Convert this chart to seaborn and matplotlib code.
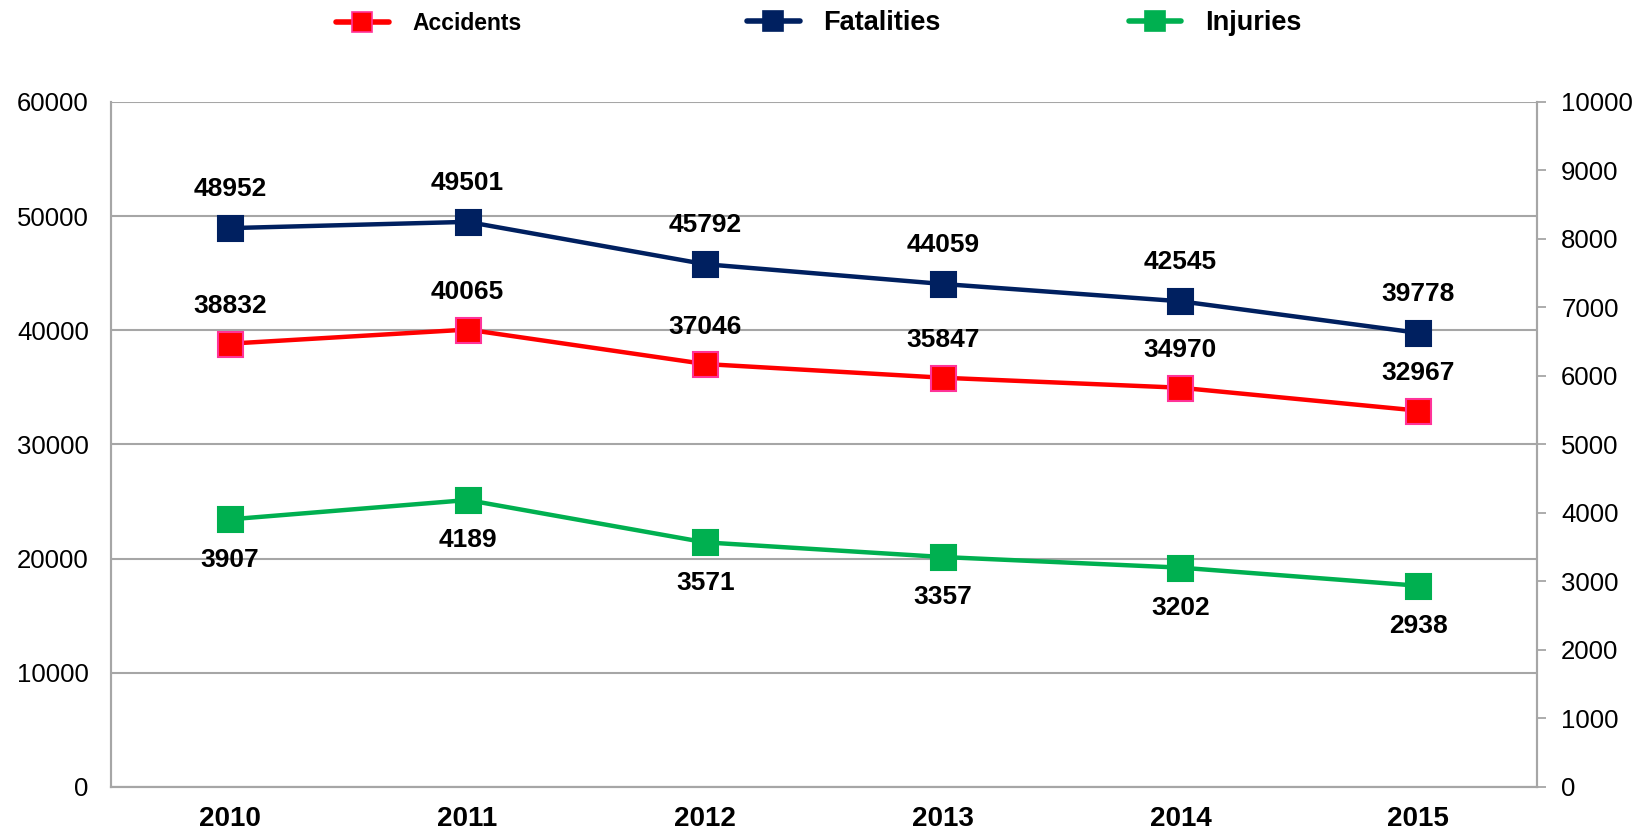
import matplotlib
matplotlib.use("Agg")
import matplotlib.pyplot as plt
from matplotlib.lines import Line2D
import seaborn as sns
import pandas as pd

# data
years = [2010, 2011, 2012, 2013, 2014, 2015]
accidents = [38832, 40065, 37046, 35847, 34970, 32967]
fatalities = [48952, 49501, 45792, 44059, 42545, 39778]
injuries = [3907, 4189, 3571, 3357, 3202, 2938]

RED = '#FF0000'
NAVY = '#002060'
GREEN = '#00B050'
GRID = '#A6A6A6'

sns.set_style('white')
plt.rcParams['font.family'] = ['Liberation Sans', 'DejaVu Sans']
plt.rcParams['text.color'] = 'black'
plt.rcParams['xtick.color'] = 'black'
plt.rcParams['ytick.color'] = 'black'

df = pd.DataFrame({'year': years, 'Accidents': accidents,
                   'Fatalities': fatalities, 'Injuries': injuries})

fig = plt.figure(figsize=(16.38, 8.34), dpi=100)
ax = fig.add_axes([0.0678, 0.0564, 0.8705, 0.8213])
ax2 = ax.twinx()

sns.lineplot(data=df, x='year', y='Fatalities', ax=ax, color=NAVY, lw=3.2,
             marker='s', markersize=18, markeredgecolor=NAVY, markeredgewidth=1.5)
sns.lineplot(data=df, x='year', y='Accidents', ax=ax, color=RED, lw=3.2,
             marker='s', markersize=18, markeredgecolor='#FF3399', markeredgewidth=1.5)
sns.lineplot(data=df, x='year', y='Injuries', ax=ax2, color=GREEN, lw=3.2,
             marker='s', markersize=18, markeredgecolor=GREEN, markeredgewidth=1.5)

lab = dict(ha='center', va='center', fontsize=19, fontweight='bold',
           textcoords='offset points', color='black')
for x, a, f, i in zip(years, accidents, fatalities, injuries):
    ax.annotate(str(f), (x, f), xytext=(0, 28), **lab)
    ax.annotate(str(a), (x, a), xytext=(0, 27), **lab)
    ax2.annotate(str(i), (x, i), xytext=(0, -29), **lab)

ax.set_xlim(2009.5, 2015.5)
ax.set_ylim(0, 60000)
ax2.set_ylim(0, 10000)
ax.set_yticks(range(0, 60001, 10000))
ax2.set_yticks(range(0, 10001, 1000))
ax.set_xticks(years)
ax.set_xticklabels([str(y) for y in years], fontsize=20, fontweight='bold')
ax.set_xlabel('')
ax.set_ylabel('')
ax2.set_ylabel('')

ax.grid(axis='y', color=GRID, lw=1.5)
ax.grid(axis='x', visible=False)
ax.tick_params(axis='y', length=0, pad=16, labelsize=18.5)
ax.tick_params(axis='x', length=0, pad=14)
ax2.tick_params(axis='y', length=6.5, width=1.3, color=GRID, direction='out',
                pad=11, labelsize=18.5, labelcolor='black')

for a in (ax, ax2):
    for side in ('left', 'right', 'bottom'):
        a.spines[side].set_color(GRID)
        a.spines[side].set_linewidth(1.5)
    a.spines['top'].set_visible(False)

# legend, three separate entries as in the reference
def handle(color, edge):
    return Line2D([0], [0], color=color, lw=4, marker='s', markersize=14,
                  markerfacecolor=color, markeredgecolor=edge, markeredgewidth=1.2)

entries = [('Accidents', handle(RED, '#FF3399'), 16.5, 0.205),
           ('Fatalities', handle(NAVY, NAVY), 19.5, 0.456),
           ('Injuries', handle(GREEN, GREEN), 19.5, 0.689)]
for text, h, fs, xpos in entries:
    fig.legend([h], [text], loc='center left', bbox_to_anchor=(xpos, 0.972),
               frameon=False, borderpad=0, borderaxespad=0,
               handlelength=38 / fs, handletextpad=17 / fs,
               labelcolor='black', prop={'weight': 'bold', 'size': fs})

fig.savefig('out.png', dpi=100)
